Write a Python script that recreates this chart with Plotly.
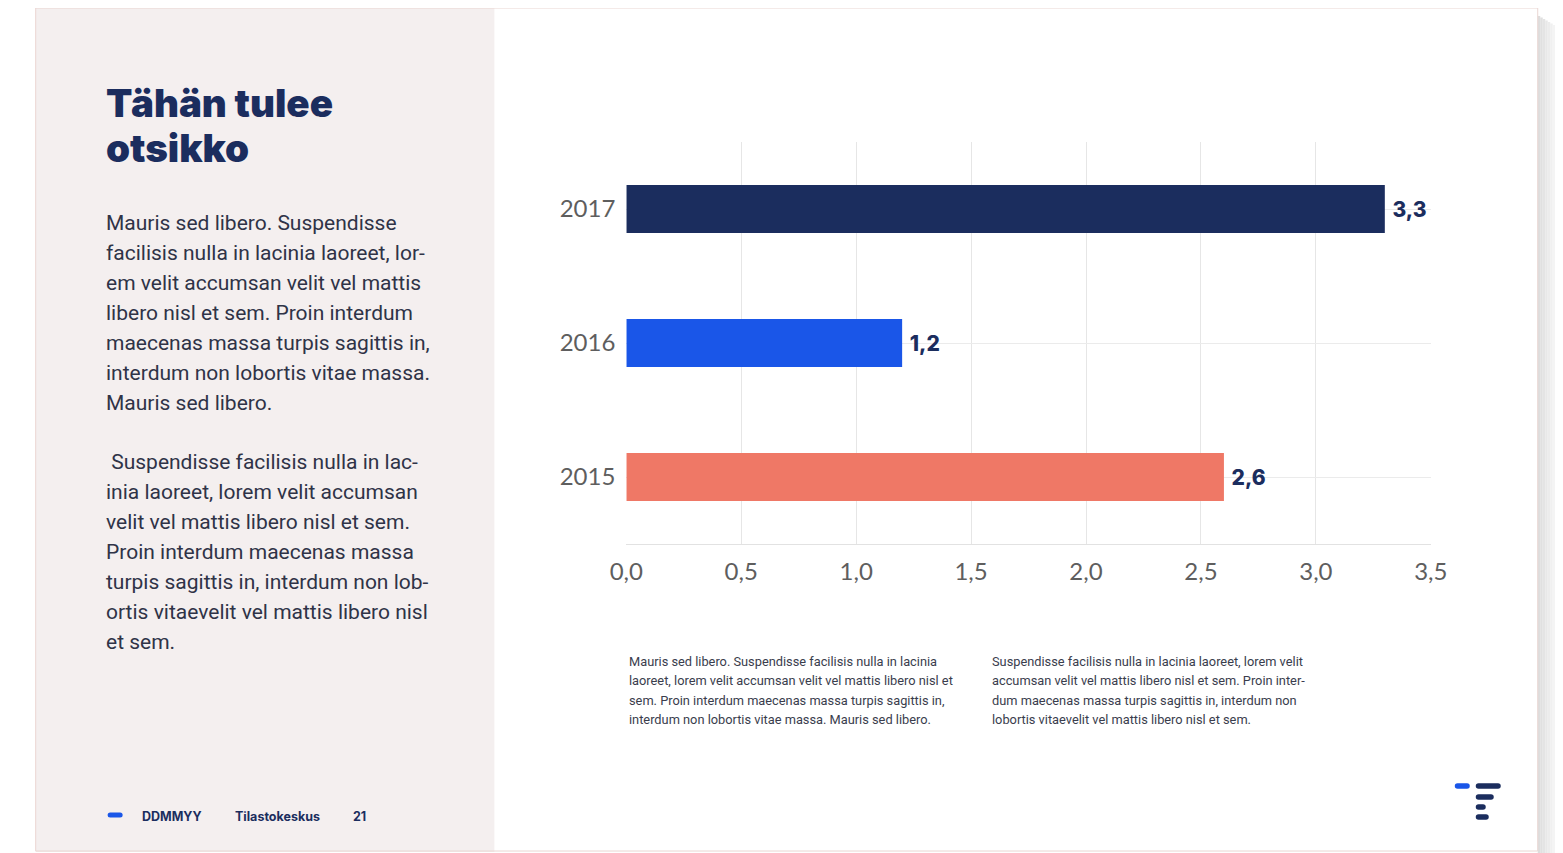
import plotly.graph_objects as go

# page pixel frame of the reference; the figure sits inside the 8px body margin
PAGE_OFF = 8
W, H = 1572, 845
# horizontal mapping observed between figure pixels and the photographed page
X_SCALE, X_OFF = 0.979, 24.3

years = ["2015", "2016", "2017"]
values = [2.6, 1.2, 3.3]
bar_colors = ["#EF7866", "#1A56E8", "#1B2D5E"]
x_ticks = [0, 0.5, 1, 1.5, 2, 2.5, 3, 3.5]

title_lines = ["Tähän tulee", "otsikko"]
body_lines_1 = [
    "Mauris sed libero. Suspendisse",
    "facilisis nulla in lacinia laoreet, lor-",
    "em velit accumsan velit vel mattis",
    "libero nisl et sem. Proin interdum",
    "maecenas massa turpis sagittis in,",
    "interdum non lobortis vitae massa.",
    "Mauris sed libero.",
]
body_lines_2 = [
    " Suspendisse facilisis nulla in lac-",
    "inia laoreet, lorem velit accumsan",
    "velit vel mattis libero nisl et sem.",
    "Proin interdum maecenas massa",
    "turpis sagittis in, interdum non lob-",
    "ortis vitaevelit vel mattis libero nisl",
    "et sem.",
]
note_lines_1 = [
    "Mauris sed libero. Suspendisse facilisis nulla in lacinia",
    "laoreet, lorem velit accumsan velit vel mattis libero nisl et",
    "sem. Proin interdum maecenas massa turpis sagittis in,",
    "interdum non lobortis vitae massa. Mauris sed libero.",
]
note_lines_2 = [
    "Suspendisse facilisis nulla in lacinia laoreet, lorem velit",
    "accumsan velit vel mattis libero nisl et sem. Proin inter-",
    "dum maecenas massa turpis sagittis in, interdum non",
    "lobortis vitaevelit vel mattis libero nisl et sem.",
]
footer_items = [("DDMMYY", 141), ("Tilastokeskus", 234), ("21", 353)]

NAVY = "#1B2D5E"


def px(x):
    return min(max(((x - X_OFF) / X_SCALE) / W, 0), 1)


def py(y):
    return min(max(1 - (y - PAGE_OFF) / H, 0), 1)


def rounded_bar(x0, x1, yc, h):
    r = h / 2
    X0, X1 = px(x0), px(x1)
    Xr0, Xr1 = px(x0 + r), px(x1 - r)
    Yt, Yb, Ym = py(yc - r), py(yc + r), py(yc)
    return (f"M{Xr0},{Yt} L{Xr1},{Yt} Q{X1},{Yt} {X1},{Ym} Q{X1},{Yb} {Xr1},{Yb} "
            f"L{Xr0},{Yb} Q{X0},{Yb} {X0},{Ym} Q{X0},{Yt} {Xr0},{Yt} Z")


fig = go.Figure()
fig.add_trace(go.Bar(
    x=values, y=years, orientation="h",
    marker=dict(color=bar_colors, line=dict(width=0)),
    width=0.36,
    texttemplate="\u00a0%{x:.1f}", textposition="outside",
    textfont=dict(family="Inter", size=21, color=NAVY, weight=800),
    cliponaxis=False, hoverinfo="skip",
))

shapes = []
# left panel
shapes.append(dict(type="rect", xref="paper", yref="paper", layer="below",
                   x0=px(35), x1=px(494), y0=py(852), y1=py(6),
                   fillcolor="#F4EFEF", line=dict(width=0)))
# soft shadow on the right of the slide
shadow = ["#dddddd", "#e0e0e0", "#e4e4e4", "#e8e8e8", "#ececec", "#f0f0f0",
          "#f4f4f4", "#f7f7f7", "#fafafa", "#fcfcfc"]
for i, c in enumerate(shadow):
    shapes.append(dict(type="rect", xref="paper", yref="paper", layer="below",
                       x0=px(1538 + i * 2.5), x1=px(1540.5 + i * 2.5),
                       y0=py(853), y1=py(16 + i * 1.5),
                       fillcolor=c, line=dict(width=0)))
# slide border
shapes.append(dict(type="rect", xref="paper", yref="paper", layer="above",
                   x0=px(35), x1=px(1538), y0=py(851), y1=py(6),
                   fillcolor="rgba(0,0,0,0)", line=dict(width=1, color="#EAD6D2")))
# footer dash
shapes.append(dict(type="path", xref="paper", yref="paper",
                   path=rounded_bar(107, 122, 815, 5),
                   fillcolor="#1A56E8", line=dict(width=0)))
# logo
logo = [(1455, 1470, 786, "#1A56E8"), (1476, 1501, 786, NAVY), (1476, 1494, 797, NAVY),
        (1476, 1486, 807, NAVY), (1476, 1489, 817, NAVY)]
for x0, x1, yc, c in logo:
    shapes.append(dict(type="path", xref="paper", yref="paper",
                       path=rounded_bar(x0, x1, yc, 5.5),
                       fillcolor=c, line=dict(width=0)))

ann = []
for i, t in enumerate(title_lines):
    ann.append(dict(text=t, x=px(103), y=py(103 + i * 45), xref="paper", yref="paper",
                    xanchor="left", yanchor="middle", showarrow=False,
                    font=dict(family="Inter", size=38.5, color=NAVY, weight=900)))
for lines, y0 in ((body_lines_1, 223), (body_lines_2, 462)):
    for i, t in enumerate(lines):
        ann.append(dict(text=t, x=px(103), y=py(y0 + i * 30), xref="paper", yref="paper",
                        xanchor="left", yanchor="middle", showarrow=False,
                        font=dict(family="Roboto", size=21, color="#2f3347")))
for lines, x0 in ((note_lines_1, 627), (note_lines_2, 990)):
    for i, t in enumerate(lines):
        ann.append(dict(text=t, x=px(x0), y=py(661 + i * 19.5), xref="paper", yref="paper",
                        xanchor="left", yanchor="middle", showarrow=False,
                        font=dict(family="Roboto", size=12.8, color="#3a3d4d")))
for t, x0 in footer_items:
    ann.append(dict(text=t, x=px(x0 - 2), y=py(816), xref="paper", yref="paper",
                    xanchor="left", yanchor="middle", showarrow=False,
                    font=dict(family="Inter", size=12.5, color=NAVY, weight=700)))

fig.update_layout(
    width=W, height=H,
    margin=dict(l=0, r=0, t=0, b=0),
    paper_bgcolor="white", plot_bgcolor="rgba(0,0,0,0)",
    separators=", ",
    showlegend=False,
    shapes=shapes, annotations=ann,
    xaxis=dict(domain=[px(626), px(1431)], range=[0, 3.5], tickvals=x_ticks,
               tickformat=".1f", showgrid=True, gridcolor="#E6E6E6", gridwidth=1,
               zeroline=False, showline=True, linecolor="#E2E2E2", linewidth=1,
               ticks="", ticklabelstandoff=6,
               tickfont=dict(family="Lato", size=24, color="#5e5e5e")),
    yaxis=dict(domain=[py(544), py(142)], range=[-0.5, 2.5], categoryorder="array",
               categoryarray=years, showgrid=True, gridcolor="#EBEBEB", gridwidth=1,
               zeroline=False, showline=False, ticks="", ticklabelstandoff=10,
               tickfont=dict(family="Lato", size=24, color="#5e5e5e")),
)

fig.write_html("out.html")
